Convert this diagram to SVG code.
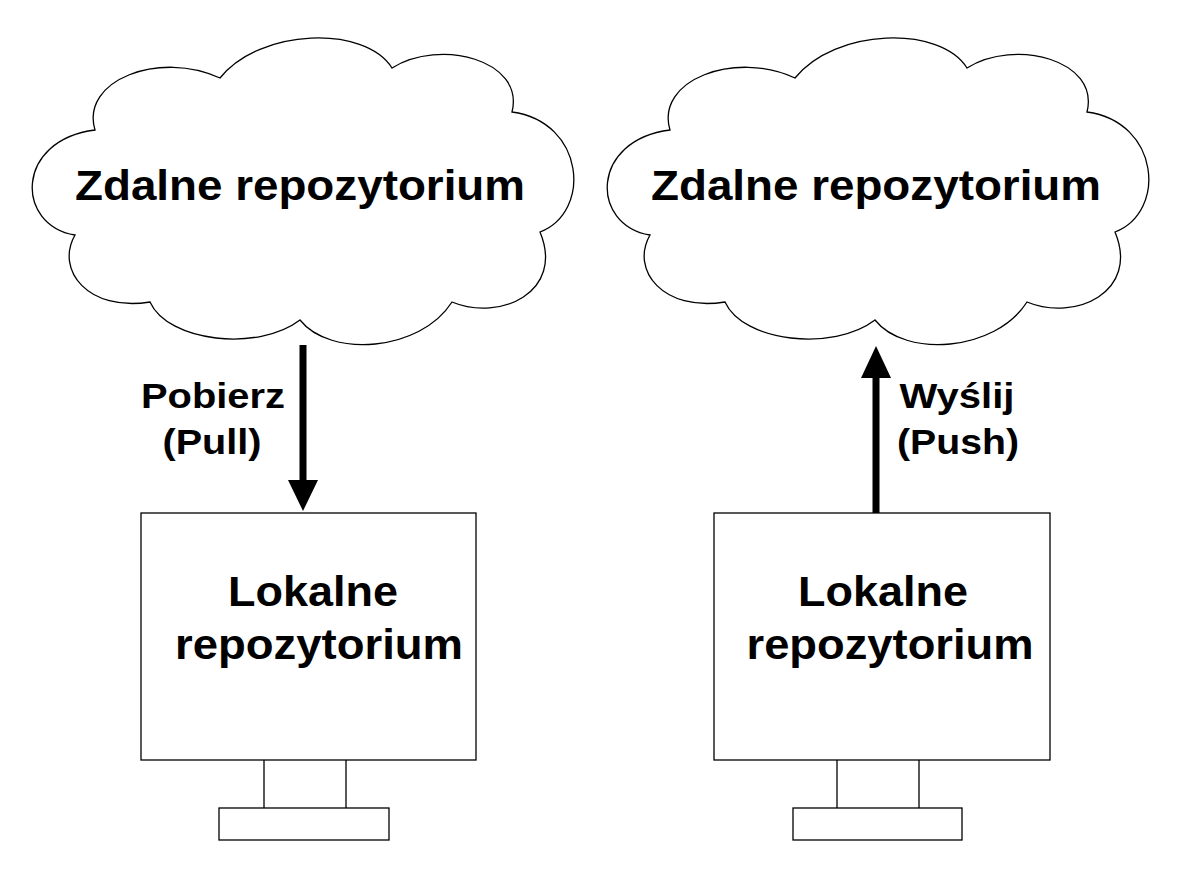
<svg xmlns="http://www.w3.org/2000/svg" width="1197" height="896" viewBox="0 0 1197 896">
<style>
.o{fill:#fff;stroke:#000;stroke-width:1.3}
.t{font-family:"Liberation Sans",Arial,sans-serif;font-weight:bold;fill:#000;text-anchor:middle}
.big{font-size:43px}
.lbl{font-size:35px}
</style>
<defs>
<path id="cloud" d="M 75 235 C 15 225, 15 140, 95 130 C 80 80, 160 50, 220 78 C 260 28, 365 25, 392 68 C 440 38, 525 60, 512 112 C 585 122, 592 212, 540 232 C 565 292, 500 322, 452 302 C 420 352, 330 358, 300 320 C 258 352, 168 342, 150 302 C 88 312, 55 270, 75 235 Z"/>
</defs>
<rect width="1197" height="896" fill="#fff"/>
<g id="remote-left"><use href="#cloud" class="o"/><text class="t big" x="300" y="200" textLength="450" lengthAdjust="spacingAndGlyphs">Zdalne repozytorium</text></g>
<g id="remote-right"><use href="#cloud" class="o" transform="translate(575,0)"/><text class="t big" x="876" y="200" textLength="450" lengthAdjust="spacingAndGlyphs">Zdalne repozytorium</text></g>
<g id="local-left">
<rect class="o" x="141" y="513" width="335" height="247"/>
<path class="o" d="M264 760 V808 M346 760 V808" fill="none"/>
<rect class="o" x="219" y="808" width="170" height="32"/>
<text class="t big" x="313" y="606" textLength="170" lengthAdjust="spacingAndGlyphs">Lokalne</text><text class="t big" x="319" y="659" textLength="288" lengthAdjust="spacingAndGlyphs">repozytorium</text>
</g>
<g id="local-right">
<rect class="o" x="714" y="513" width="336" height="247"/>
<path class="o" d="M837 760 V808 M919 760 V808" fill="none"/>
<rect class="o" x="793" y="808" width="169" height="32"/>
<text class="t big" x="883" y="606" textLength="170" lengthAdjust="spacingAndGlyphs">Lokalne</text><text class="t big" x="890" y="659" textLength="287" lengthAdjust="spacingAndGlyphs">repozytorium</text>
</g>
<g id="connectors">
<line x1="303" y1="345" x2="303" y2="480" stroke="#000" stroke-width="7"/>
<path d="M288 480 L318 480 L303 511 Z"/>
<line x1="876" y1="513" x2="876" y2="378" stroke="#000" stroke-width="7"/>
<path d="M861 378 L891 378 L876 346 Z"/>
<text class="t lbl" x="213" y="408" textLength="144" lengthAdjust="spacingAndGlyphs">Pobierz</text><text class="t lbl" x="212" y="454" textLength="99" lengthAdjust="spacingAndGlyphs">(Pull)</text>
<text class="t lbl" x="957" y="408" textLength="115" lengthAdjust="spacingAndGlyphs">Wyślij</text><text class="t lbl" x="958" y="454" textLength="122" lengthAdjust="spacingAndGlyphs">(Push)</text>
</g>
</svg>
